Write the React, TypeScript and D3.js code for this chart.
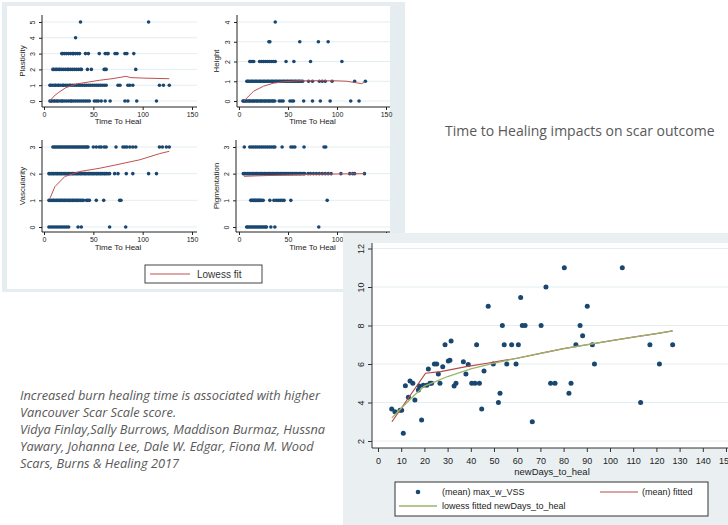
import React, { useEffect, useRef } from 'react';
import * as d3 from 'd3';

// ---- big chart: (mean) max_w_VSS by newDays_to_heal ----
const healDays = [5.9, 7.3, 9.5, 10.2, 10.9, 11.8, 13.1, 13.8, 15, 15.9, 17.4, 17.8, 18.8, 19.5, 21, 21.7, 22.4, 23.1,
  24.3, 25.3, 26, 26.7, 27.9, 28.9, 30.3, 31, 31.5, 32.8, 33.6, 36.8, 37.9, 38.9, 40.4, 41.8, 42.5, 43.7, 44.7, 45.7,
  47.5, 49.7, 51.9, 52.6, 53.6, 54.4, 55.5, 57.6, 59.5, 60.5, 61.5, 62.2, 63.4, 66.5, 70.3, 72.4, 74.4, 76.3, 80.3,
  82.3, 83.2, 85.3, 87.1, 88.2, 90.2, 92.4, 93.3, 105.3, 113.2, 117.2, 121.3, 127];
const meanVSS = [3.66, 3.52, 3.6, 3.6, 2.4, 4.87, 4.27, 5.12, 5.0, 4.13, 4.65, 4.86, 3.09, 4.9, 4.9, 5.74, 5.0, 5.0,
  6.0, 6.0, 5.48, 5.0, 5.86, 7.0, 6.15, 6.2, 7.2, 4.86, 5.0, 6.12, 5.48, 5.98, 5.0, 5.0, 7.0, 5.0, 3.66, 5.64,
  9.0, 6.0, 4.0, 4.48, 8.0, 7.0, 6.0, 7.0, 6.0, 7.0, 9.46, 8.0, 8.0, 3.0, 8.0, 10.0, 5.0, 5.0, 11.0,
  4.48, 5.0, 7.0, 8.0, 7.47, 9.0, 7.0, 6.0, 11.0, 4.0, 7.0, 6.0, 7.0];
const fitDays = [6, 20.5, 27, 38, 47, 53, 60, 70, 80, 90, 100, 110, 120, 127];
const meanFitted = [3.0, 5.52, 5.6, 5.86, 6.04, 6.16, 6.3, 6.55, 6.8, 7.0, 7.2, 7.4, 7.58, 7.72];
const lowessDays = [6, 10, 15, 20, 25, 30, 40, 50, 60, 70, 80, 90, 100, 110, 120, 127];
const lowessVSS = [3.2, 3.7, 4.3, 4.85, 5.1, 5.35, 5.75, 6.05, 6.3, 6.55, 6.8, 7.0, 7.2, 7.4, 7.58, 7.72];
const bigXTicks = d3.range(0, 151, 10);
const bigYTicks = [2, 4, 6, 8, 10, 12];

// ---- small plots: Time To Heal at each score level ----
const plast0 = [6, 7, 8, 10, 11, 13, 14, 16, 18, 19, 21, 23, 25, 27, 28, 30, 32, 34, 36, 38, 40, 42, 44, 46, 51, 53, 55, 58, 62, 67, 82, 85, 94, 114];
const plast1 = [6, 7, 9, 11, 12, 14, 15, 17, 19, 20, 22, 24, 26, 27, 29, 31, 33, 35, 37, 39, 41, 43, 45, 47, 49, 51, 53, 55, 57, 59, 61, 63, 75, 77, 85, 87, 90, 117, 121, 127];
const plast2 = [9, 10, 12, 13, 15, 16, 18, 20, 22, 24, 25, 27, 29, 31, 33, 35, 37, 38, 44, 48, 61, 62, 63, 93];
const plast3 = [18, 19, 21, 23, 25, 27, 29, 30, 32, 34, 36, 42, 45, 56, 62, 64, 65, 72, 74, 82, 84, 91];
const plast4 = [32];
const plast5 = [37, 106];
const plastLowX = [6, 10, 15, 22, 33, 45, 56, 70, 83, 88, 100, 127];
const plastLowY = [0, 0.3, 0.55, 0.84, 1.08, 1.2, 1.31, 1.42, 1.56, 1.48, 1.45, 1.41];

const height0 = [4, 5, 6, 7, 8.5, 10, 11, 12.5, 14, 15, 16.5, 18, 19, 20.5, 22, 23, 24.5, 26, 27, 28.5, 30, 31, 32.5, 34, 35, 36.5, 41, 43, 45, 52, 54, 55.6, 66, 75, 83, 93, 114, 122.5];
const height1 = [8, 9, 10, 11.5, 13, 14, 15.5, 17, 18, 19.5, 21, 22, 23.5, 25, 26, 27.5, 29, 30, 31.5, 33, 34, 35.5, 37, 38, 39.5, 41, 42, 43.5, 45, 46, 47.5, 49, 50, 51.5, 53, 54, 55.5, 57, 58, 59.5, 61, 62, 63.5, 65, 71, 75, 82, 85, 88, 95, 118, 129];
const height2 = [11, 12, 13.5, 15, 21, 23, 25, 27, 29, 31, 33, 35, 37, 48, 56, 73, 105];
const height3 = [30.5, 31.5, 62, 81, 91];
const height4 = [37];
const heightLowX = [5, 15, 25, 35, 45, 60, 80, 100, 110, 120, 125, 128];
const heightLowY = [0, 0.5, 0.75, 0.9, 0.97, 1.02, 1.03, 1.02, 1.0, 0.92, 0.88, 0.95];

const vasc0 = [5, 7, 9, 11, 13, 15, 17, 19, 21, 23, 25, 34.5, 37.8, 66.5, 82.8];
const vasc1 = [5, 6, 7.5, 9, 10, 11.5, 13, 14, 15.5, 17, 18, 19.5, 21, 22, 23.5, 25, 26, 27.5, 29, 30, 31.5, 33, 34, 35.5, 37, 38.5, 40, 43, 44.5, 46, 53, 60.5, 76.7, 78];
const vasc2 = [5, 6, 7.5, 9, 10, 11.5, 13, 14, 15.5, 17, 18, 19.5, 21, 22, 23.5, 25, 26, 27.5, 29, 30, 31.5, 33, 34, 35.5, 37, 38, 39.5, 41, 42, 43.5, 45, 46, 47.5, 49, 50, 51.5, 53, 54, 55.5, 57, 58, 59.5, 61, 62, 63.5, 65, 66.5, 71.6, 75, 83.4, 90, 106, 114];
const vasc3 = [9, 10.5, 12, 13.5, 15, 16.5, 18, 19.5, 21, 22.5, 24, 25.5, 27, 28.5, 30, 31.5, 33, 34.5, 36, 37.5, 39, 40.5, 42, 43.5, 44.6, 50, 53, 56, 58, 61, 63, 73, 80, 82, 84, 87, 90, 93, 117, 120, 124, 127];
const vascLowX = [6, 11, 21, 36, 56, 73, 97, 117, 127];
const vascLowY = [1.07, 1.51, 1.89, 2.08, 2.2, 2.33, 2.52, 2.75, 2.84];

const pigm0 = [7.8, 9, 10.5, 12, 13.5, 15, 16.5, 18, 19.5, 21, 22.5, 24, 25.5, 27, 28, 32.5, 36.6, 81.4];
const pigm1 = [12, 13, 14, 15, 16, 17, 18, 19, 20, 21, 22, 23, 24.7, 31.5, 35.6, 38, 40, 42, 44, 46, 52.9, 90];
const pigm2 = [4.4, 5.5, 7, 8.5, 10, 11, 12.5, 14, 15, 16.5, 18, 19, 20.5, 22, 23, 24.5, 26, 27, 28.5, 30, 31, 32.5, 34, 35, 36.5, 38, 39, 40.5, 42, 43, 44.5, 46, 47, 48.5, 50, 51, 52.5, 54, 55, 56.5, 58, 59, 60.5, 62, 63, 64.5, 66, 67, 70.5, 73, 76, 79, 82, 85, 88, 91, 94, 104, 113, 116, 118, 128];
const pigm3 = [5.4, 11, 13, 15, 17, 19, 21, 23, 25, 27, 29, 31, 33, 35, 36.6, 44, 53, 55, 57, 66.4, 86.8, 88.5];
const pigmLowX = [5, 20, 50, 80, 128];
const pigmLowY = [1.9, 1.92, 1.95, 1.98, 2.0];

const xTicksSmall = [0, 50, 100, 150];

const NAVY = '#1a476f';
const GRID = '#e4edf0';
const PANEL = '#e6edf0';
const STATA_FONT = '"Liberation Sans", Arial, sans-serif';
const SLIDE_FONT = '"Open Sans", "Noto Sans", sans-serif';

const smallPlots = [
  { title: 'Plasticity', levels: [plast0, plast1, plast2, plast3, plast4, plast5], lowX: plastLowX, lowY: plastLowY,
    x0: 44, x150: 192, yBottom: 101, yTop: 22, top: 15, axisX: 42, axisY: 107, right: 197, titleX: 25, xTitleY: 124 },
  { title: 'Height', levels: [height0, height1, height2, height3, height4], lowX: heightLowX, lowY: heightLowY,
    x0: 239, x150: 386, yBottom: 101, yTop: 22, top: 15, axisX: 237, axisY: 107, right: 390, titleX: 219, xTitleY: 124 },
  { title: 'Vascularity', levels: [vasc0, vasc1, vasc2, vasc3], lowX: vascLowX, lowY: vascLowY,
    x0: 44, x150: 192, yBottom: 227, yTop: 147, top: 140, axisX: 42, axisY: 232, right: 197, titleX: 25, xTitleY: 250 },
  { title: 'Pigmentation', levels: [pigm0, pigm1, pigm2, pigm3], lowX: pigmLowX, lowY: pigmLowY,
    x0: 239, x150: 386, yBottom: 227, yTop: 147, top: 140, axisX: 236, axisY: 232, right: 390, titleX: 219, xTitleY: 250 },
];

const citation = [
  'Increased burn healing time is associated with higher',
  'Vancouver Scar Scale score.',
  'Vidya Finlay,Sally Burrows, Maddison Burmaz, Hussna',
  'Yawary, Johanna Lee, Dale W. Edgar, Fiona M. Wood',
  'Scars, Burns & Healing 2017',
];

const App = () => {
  const svgRef = useRef<SVGSVGElement>(null);

  useEffect(() => {
    const svg = d3.select(svgRef.current);
    svg.selectAll('*').remove();

    // left combined-graph panel
    svg.append('rect').attr('x', 2).attr('y', 2).attr('width', 403).attr('height', 290).attr('fill', PANEL);
    svg.append('rect').attr('x', 7).attr('y', 6).attr('width', 383).attr('height', 283).attr('fill', '#fff');

    smallPlots.forEach(p => {
      const maxLvl = p.levels.length - 1;
      const x = d3.scaleLinear().domain([0, 150]).range([p.x0, p.x150]);
      const y = d3.scaleLinear().domain([0, maxLvl]).range([p.yBottom, p.yTop]);
      const g = svg.append('g');

      // gridlines
      g.append('g').selectAll('line').data(d3.range(0, maxLvl + 1)).join('line')
        .attr('x1', p.axisX).attr('x2', p.right)
        .attr('y1', d => y(d)).attr('y2', d => y(d))
        .attr('stroke', GRID).attr('stroke-width', 1);

      // axes
      const yAx = g.append('g').attr('transform', `translate(${p.axisX},0)`)
        .call(d3.axisLeft(y).tickValues(d3.range(0, maxLvl + 1)).tickSize(3).tickSizeOuter(0).tickFormat(d3.format('d')));
      yAx.select('.domain').remove();
      yAx.selectAll('line').attr('stroke', '#222');
      yAx.selectAll('text')
        .attr('transform', 'rotate(-90)').attr('x', 0).attr('y', -7).attr('dy', 0)
        .attr('text-anchor', 'middle').attr('fill', '#222')
        .style('font-size', '7px').style('font-family', STATA_FONT);
      g.append('line').attr('x1', p.axisX).attr('x2', p.axisX).attr('y1', p.top).attr('y2', p.axisY)
        .attr('stroke', '#222');

      const xAx = g.append('g').attr('transform', `translate(0,${p.axisY})`)
        .call(d3.axisBottom(x).tickValues(xTicksSmall).tickSize(3).tickSizeOuter(0).tickPadding(2));
      xAx.select('.domain').remove();
      xAx.selectAll('line').attr('stroke', '#222');
      xAx.selectAll('text').attr('fill', '#222').style('font-size', '7px').style('font-family', STATA_FONT);
      g.append('line').attr('x1', p.axisX).attr('x2', p.right).attr('y1', p.axisY).attr('y2', p.axisY)
        .attr('stroke', '#222');

      // points
      const pts = p.levels.flatMap((xs, lvl) => xs.map(v => [v, lvl]));
      g.append('g').selectAll('circle').data(pts).join('circle')
        .attr('cx', d => x(d[0])).attr('cy', d => y(d[1])).attr('r', 1.8).attr('fill', NAVY);

      // lowess
      const low = p.lowX.map((v, i) => [v, p.lowY[i]]);
      g.append('path').datum(low)
        .attr('d', d3.line().x(d => x(d[0])).y(d => y(d[1])))
        .attr('fill', 'none').attr('stroke', '#c0504d').attr('stroke-width', 1);

      // titles
      g.append('text').attr('transform', `translate(${p.titleX},${(p.top + p.axisY) / 2}) rotate(-90)`)
        .attr('text-anchor', 'middle').attr('fill', '#222')
        .style('font-size', '8px').style('font-family', STATA_FONT).text(p.title);
      g.append('text').attr('x', (p.x0 + p.x150) / 2).attr('y', p.xTitleY)
        .attr('text-anchor', 'middle').attr('fill', '#222')
        .style('font-size', '8px').style('font-family', STATA_FONT).text('Time To Heal');
    });

    // left panel legend
    svg.append('rect').attr('x', 145).attr('y', 265).attr('width', 117).attr('height', 18)
      .attr('fill', '#fff').attr('stroke', '#444').attr('stroke-width', 1);
    svg.append('line').attr('x1', 150).attr('x2', 190).attr('y1', 274).attr('y2', 274)
      .attr('stroke', '#c0504d').attr('stroke-width', 1);
    svg.append('text').attr('x', 197).attr('y', 278).attr('fill', '#333')
      .style('font-size', '10px').style('font-family', STATA_FONT).text('Lowess fit');

    // slide title
    svg.append('text').attr('x', 445).attr('y', 136).attr('fill', '#595959')
      .style('font-size', '14px').style('font-family', SLIDE_FONT).text('Time to Healing impacts on scar outcome');

    // citation
    svg.append('g').selectAll('text').data(citation).join('text')
      .attr('x', 20).attr('y', (d, i) => 400 + i * 17)
      .attr('fill', '#595959').style('font-style', 'italic')
      .style('font-size', '12.8px').style('font-family', SLIDE_FONT).text(d => d);

    // big chart panel
    svg.append('rect').attr('x', 343).attr('y', 233).attr('width', 390).attr('height', 295).attr('fill', '#eaf0f2');
    svg.append('rect').attr('x', 372).attr('y', 243).attr('width', 360).attr('height', 205).attr('fill', '#fff');

    const bx = d3.scaleLinear().domain([0, 150]).range([378, 726]);
    const by = d3.scaleLinear().domain([2, 12]).range([441, 248.5]);

    svg.append('g').selectAll('line').data(bigYTicks).join('line')
      .attr('x1', 372).attr('x2', 728).attr('y1', d => by(d)).attr('y2', d => by(d))
      .attr('stroke', GRID).attr('stroke-width', 1);

    const byAx = svg.append('g').attr('transform', 'translate(372,0)')
      .call(d3.axisLeft(by).tickValues(bigYTicks).tickSize(4).tickSizeOuter(0));
    byAx.select('.domain').remove();
    byAx.selectAll('line').attr('stroke', '#333');
    byAx.selectAll('text')
      .attr('transform', 'rotate(-90)').attr('x', 0).attr('y', -8.5).attr('dy', 0)
      .attr('text-anchor', 'middle').attr('fill', '#222')
      .style('font-size', '9px').style('font-family', STATA_FONT);
    svg.append('line').attr('x1', 372).attr('x2', 372).attr('y1', 243).attr('y2', 448).attr('stroke', '#333');

    const bxAx = svg.append('g').attr('transform', 'translate(0,448)')
      .call(d3.axisBottom(bx).tickValues(bigXTicks).tickSize(4).tickSizeOuter(0).tickPadding(6));
    bxAx.select('.domain').remove();
    bxAx.selectAll('line').attr('stroke', '#333');
    bxAx.selectAll('text').attr('fill', '#222').style('font-size', '9px').style('font-family', STATA_FONT);
    svg.append('line').attr('x1', 372).attr('x2', 728).attr('y1', 448).attr('y2', 448).attr('stroke', '#333');

    svg.append('text').attr('x', 552).attr('y', 475).attr('text-anchor', 'middle').attr('fill', '#222')
      .style('font-size', '9.5px').style('font-family', STATA_FONT).text('newDays_to_heal');

    svg.append('g').selectAll('circle').data(healDays).join('circle')
      .attr('cx', d => bx(d)).attr('cy', (d, i) => by(meanVSS[i])).attr('r', 2.5).attr('fill', NAVY);

    const line = d3.line().x(d => bx(d[0])).y(d => by(d[1]));
    svg.append('path').datum(fitDays.map((d, i) => [d, meanFitted[i]]))
      .attr('d', line).attr('fill', 'none').attr('stroke', '#b5484a').attr('stroke-width', 1.2);
    svg.append('path').datum(lowessDays.map((d, i) => [d, lowessVSS[i]]))
      .attr('d', line).attr('fill', 'none').attr('stroke', '#9ab46a').attr('stroke-width', 1.3);

    // big chart legend
    const lg = svg.append('g').style('font-family', STATA_FONT).style('font-size', '9px');
    lg.append('rect').attr('x', 395).attr('y', 482).attr('width', 313).attr('height', 34)
      .attr('fill', '#fff').attr('stroke', '#333').attr('stroke-width', 1);
    lg.append('circle').attr('cx', 418).attr('cy', 492).attr('r', 2.3).attr('fill', NAVY);
    lg.append('text').attr('x', 442).attr('y', 495).attr('fill', '#222').text('(mean) max_w_VSS');
    lg.append('line').attr('x1', 600).attr('x2', 638).attr('y1', 492).attr('y2', 492)
      .attr('stroke', '#b5484a').attr('stroke-width', 1.2);
    lg.append('text').attr('x', 642).attr('y', 495).attr('fill', '#222').text('(mean) fitted');
    lg.append('line').attr('x1', 399).attr('x2', 437).attr('y1', 506).attr('y2', 506)
      .attr('stroke', '#9ab46a').attr('stroke-width', 1.3);
    lg.append('text').attr('x', 442).attr('y', 509).attr('fill', '#222').text('lowess fitted newDays_to_heal');
  }, []);

  return (
    <svg ref={svgRef} width={728} height={525}
      style={{ position: 'absolute', left: 0, top: 0, background: '#fff' }} />
  );
};

export default App;
